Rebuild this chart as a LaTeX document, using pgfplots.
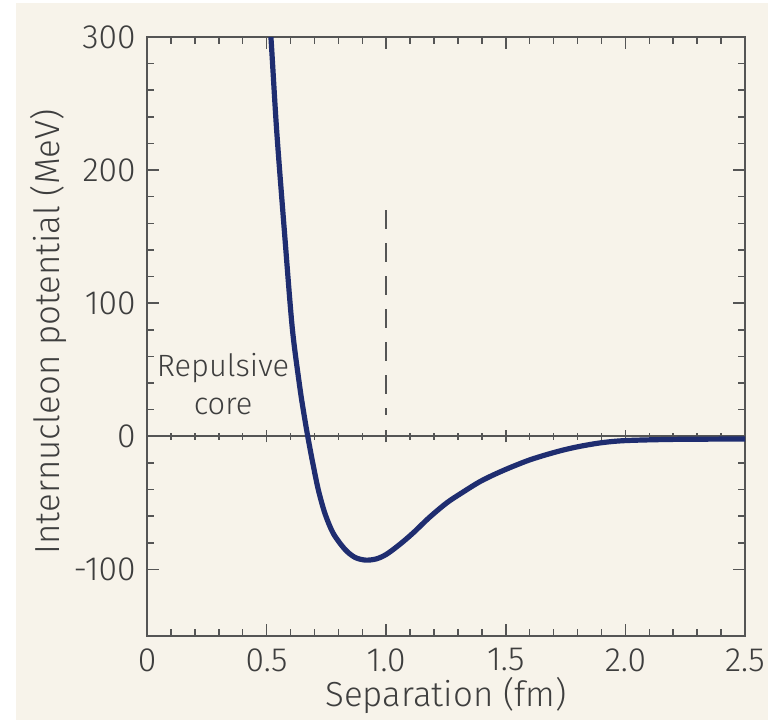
\documentclass[border=0pt]{standalone}
\usepackage{fontspec}
\setmainfont{Fira Sans Light}
\usepackage{pgfplots}
\pgfplotsset{compat=1.18}
\usetikzlibrary{calc,backgrounds}

\definecolor{bgcream}{RGB}{247,243,234}
\definecolor{curveblue}{RGB}{31,45,112}
\definecolor{axisgray}{RGB}{85,85,85}
\definecolor{textgray}{RGB}{62,62,62}

\begin{document}
\begin{tikzpicture}
% zero line with crossing ticks
\begin{axis}[
    width=299bp, height=299.5bp, scale only axis,
    xmin=0, xmax=2.5, ymin=-150, ymax=300,
    axis x line*=middle, axis y line=none,
    xtick={0,0.5,1,1.5,2,2.5}, minor x tick num=4,
    xticklabels={}, ytick=\empty,
    tick align=center,
    major tick length=6bp, minor tick length=3.5bp,
    tick style={axisgray, line width=0.75bp},
    axis line style={axisgray, line width=0.9bp},
]
\end{axis}
\begin{axis}[
    width=299bp, height=299.5bp, scale only axis,
    xmin=0, xmax=2.5, ymin=-150, ymax=300,
    xtick={0,0.5,1,1.5,2,2.5},
    xticklabels={0,0.5,1.0,1.5,2.0,2.5},
    ytick={-100,0,100,200,300},
    yticklabels={-100,0,100,200,300},
    minor x tick num=4, minor y tick num=4,
    tick align=inside, xtick pos=both, ytick pos=both,
    major tick length=6bp, minor tick length=3.5bp,
    tick style={axisgray, line width=0.75bp},
    axis line style={axisgray, line width=1bp},
    ticklabel style={textgray, font=\fontsize{16.8bp}{19bp}\selectfont},
    xticklabel style={inner sep=0pt, yshift=-6bp},
    yticklabel style={inner sep=0pt, xshift=-5.5bp},
    xlabel={Separation (fm)},
    ylabel={Internucleon potential (MeV)},
    label style={textgray, font=\fontsize{17.4bp}{20bp}\selectfont},
    xlabel style={at={(axis description cs:0.5,-0.1185)}, anchor=base},
    ylabel style={at={(axis description cs:-0.1455,0.508)}, anchor=base},
]
\addplot[axisgray, line width=1bp, dash pattern=on 9.5bp off 7bp]
    coordinates {(1,170) (1,16)};
\addplot[curveblue, line width=2.6bp, smooth] coordinates {
    (0.505,325) (0.518,300) (0.542,230) (0.574,155) (0.607,82)
    (0.638,38) (0.655,18) (0.672,0) (0.693,-20) (0.716,-40)
    (0.744,-58) (0.779,-73) (0.828,-85) (0.870,-91) (0.915,-93)
    (0.960,-92) (1.002,-88.5) (1.058,-81) (1.113,-72.5) (1.180,-61)
    (1.253,-50) (1.320,-42) (1.392,-34) (1.460,-28) (1.531,-22.5)
    (1.600,-17.7) (1.671,-13.7) (1.740,-10.3) (1.810,-7.5) (1.900,-4.8)
    (2.000,-3.2) (2.200,-2.3) (2.500,-2)
};
\node[textgray, align=center, font=\fontsize{15.4bp}{19bp}\selectfont]
    at (axis cs:0.318,39) {Repulsive\\core};
\end{axis}
\begin{scope}[on background layer]
\fill[white] ($(current axis.south west)+(-73.5bp,-42bp)$) rectangle
    ($(current axis.south west)+(310.5bp,318bp)$);
\fill[bgcream] ($(current axis.south west)+(-65.5bp,-42bp)$) rectangle
    ($(current axis.south west)+(310.5bp,316.5bp)$);
\end{scope}
\end{tikzpicture}
\end{document}
